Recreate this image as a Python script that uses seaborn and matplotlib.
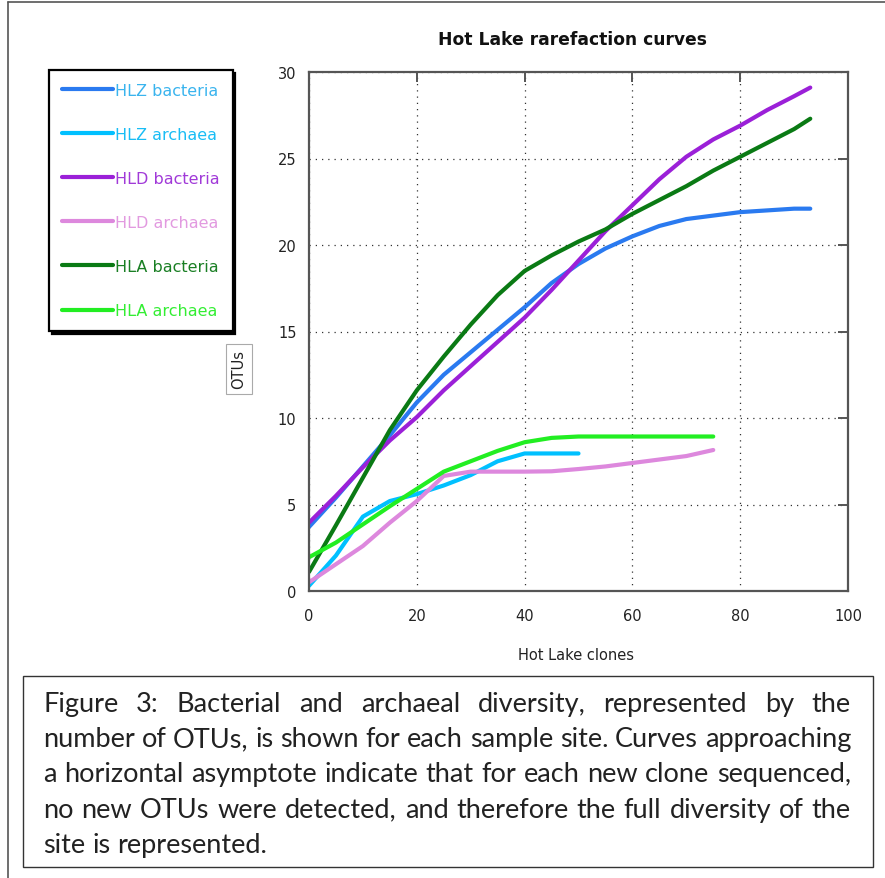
import pandas as pd
import seaborn as sns
import matplotlib.pyplot as plt
from matplotlib.lines import Line2D
from matplotlib.patches import Rectangle

# curve names, colours and the values
series_names = ["HLZ bacteria", "HLZ archaea", "HLD bacteria", "HLD archaea", "HLA bacteria", "HLA archaea"]
line_colors = ["#2a7af0", "#00c0ff", "#9b20d8", "#dd88dd", "#0a7a14", "#22ee22"]
text_colors = ["#3ab4ee", "#19bdf5", "#a13ad8", "#e29ae0", "#1a7f24", "#33ee33"]

x_bacteria = [0, 5, 10, 15, 20, 25, 30, 35, 40, 45, 50, 55, 60, 65, 70, 75, 80, 85, 90, 93]
x_hlz_archaea = [0, 5, 10, 15, 20, 25, 30, 35, 40, 45, 50]
x_archaea_75 = [0, 5, 10, 15, 20, 25, 30, 35, 40, 45, 50, 55, 60, 65, 70, 75]

hlz_bacteria = [3.7, 5.4, 7.2, 9.0, 10.9, 12.5, 13.8, 15.1, 16.4, 17.8, 18.9, 19.8, 20.5, 21.1, 21.5, 21.7, 21.9, 22.0, 22.1, 22.1]
hlz_archaea = [0.3, 2.05, 4.3, 5.2, 5.6, 6.1, 6.7, 7.5, 7.95, 7.95, 7.95]
hld_bacteria = [3.95, 5.5, 7.15, 8.7, 10.05, 11.6, 13.0, 14.4, 15.8, 17.4, 19.1, 20.8, 22.3, 23.8, 25.1, 26.1, 26.9, 27.8, 28.6, 29.1]
hld_archaea = [0.5, 1.55, 2.6, 3.95, 5.2, 6.65, 6.9, 6.9, 6.9, 6.92, 7.05, 7.2, 7.4, 7.6, 7.8, 8.15]
hla_bacteria = [1.1, 3.8, 6.55, 9.3, 11.6, 13.55, 15.4, 17.1, 18.5, 19.4, 20.2, 20.9, 21.8, 22.6, 23.4, 24.3, 25.1, 25.9, 26.7, 27.3]
hla_archaea = [1.95, 2.8, 3.85, 4.9, 5.9, 6.9, 7.5, 8.1, 8.6, 8.85, 8.93, 8.93, 8.93, 8.93, 8.93, 8.93]

x_ticks = [0, 20, 40, 60, 80, 100]
y_ticks = [0, 5, 10, 15, 20, 25, 30]

caption_lines = [
    "Figure 3: Bacterial and archaeal diversity, represented by the",
    "number of OTUs, is shown for each sample site. Curves approaching",
    "a horizontal asymptote indicate that for each new clone sequenced,",
    "no new OTUs were detected, and therefore the full diversity of the",
    "site is represented.",
]

W, H = 885, 879


def fx(px):
    return px / W


def fy(py):
    return 1 - py / H


def justified_line(fig, text, x0, x1, y, size, family, last=False):
    # place words one by one so the line fills the box like the original
    words = text.split(" ")
    items = [fig.text(0, fy(y), w, fontsize=size, family=family, va="baseline", color="#222222") for w in words]
    r = fig.canvas.get_renderer()
    widths = [t.get_window_extent(r).width for t in items]
    probe1 = fig.text(0, 0, "a a", fontsize=size, family=family)
    probe2 = fig.text(0, 0, "aa", fontsize=size, family=family)
    space = probe1.get_window_extent(r).width - probe2.get_window_extent(r).width
    probe1.remove()
    probe2.remove()
    gap = space if last else (x1 - x0 - sum(widths)) / (len(words) - 1)
    pos = x0
    for t, w in zip(items, widths):
        t.set_x(fx(pos))
        pos += w + gap


def main():
    sns.set_style("white")
    plt.rcParams['font.family'] = ['DejaVu Sans']

    frames = []
    for name, xs, ys in zip(series_names,
                            [x_bacteria, x_hlz_archaea, x_bacteria, x_archaea_75, x_bacteria, x_archaea_75],
                            [hlz_bacteria, hlz_archaea, hld_bacteria, hld_archaea, hla_bacteria, hla_archaea]):
        frames.append(pd.DataFrame({"clones": xs, "otus": ys, "series": name}))
    df = pd.concat(frames, ignore_index=True)

    fig = plt.figure(figsize=(W / 100, H / 100), dpi=100)
    ax = fig.add_axes([fx(309), fy(592), fx(848) - fx(309), fy(73) - fy(592)])

    sns.lineplot(data=df, x="clones", y="otus", hue="series", hue_order=series_names,
                 palette=dict(zip(series_names, line_colors)), linewidth=3.0,
                 estimator=None, sort=False, ax=ax)

    ax.set_xlim(0, 100)
    ax.set_ylim(0, 30)
    ax.set_xticks(x_ticks)
    ax.set_yticks(y_ticks)
    ax.set_xlabel("")
    ax.set_ylabel("")
    ax.grid(True, color="#333333", linestyle=(0, (1, 4)), linewidth=0.9)
    for s in ax.spines.values():
        s.set_color("#555555")
        s.set_linewidth(1.6)
    ax.tick_params(direction="in", length=7, width=1.4, color="#555555",
                   top=True, right=True, labelsize=10.5, labelcolor="#222222")
    ax.tick_params(axis="x", pad=12)
    ax.tick_params(axis="y", pad=9)

    handles = [Line2D([], [], color=c, linewidth=3.0) for c in line_colors]
    leg = ax.legend(handles, series_names, loc="upper left",
                    bbox_to_anchor=(fx(49), fy(71)), bbox_transform=fig.transFigure,
                    fontsize=11.5, handlelength=3.2, handletextpad=0.15, labelspacing=1.82,
                    borderpad=0.8, borderaxespad=0, fancybox=False, framealpha=1,
                    edgecolor="black", shadow={"color": "black", "alpha": 1})
    leg.get_frame().set_linewidth(1.6)
    for t, c in zip(leg.get_texts(), text_colors):
        t.set_color(c)

    fig.text(fx(572), fy(40), "Hot Lake rarefaction curves", fontsize=12.3, fontweight="bold",
             ha="center", va="center", color="#111111")
    fig.text(fx(576), fy(655), "Hot Lake clones", fontsize=10.5, ha="center", va="center", color="#222222")
    fig.text(fx(239), fy(370), "OTUs", fontsize=10.5, rotation=90, ha="center", va="center", color="#222222",
             bbox=dict(boxstyle="square,pad=0.35", facecolor="white", edgecolor="#aaaaaa", linewidth=0.8))

    # page frame and caption box
    fig.add_artist(Line2D([fx(8), fx(8)], [fy(3), 0], color="#555555", linewidth=1.2))
    fig.add_artist(Line2D([fx(8), 1], [fy(3), fy(3)], color="#555555", linewidth=1.2))
    fig.add_artist(Rectangle((fx(23), fy(868)), fx(873) - fx(23), fy(677) - fy(868),
                             fill=False, edgecolor="#333333", linewidth=1.0))

    fam = ["Lato", "DejaVu Sans"]
    for i, line in enumerate(caption_lines):
        justified_line(fig, line, 43, 851, 712 + i * 35.2, 19.5, fam, last=(i == len(caption_lines) - 1))

    fig.savefig("out.png", dpi=100)


main()
